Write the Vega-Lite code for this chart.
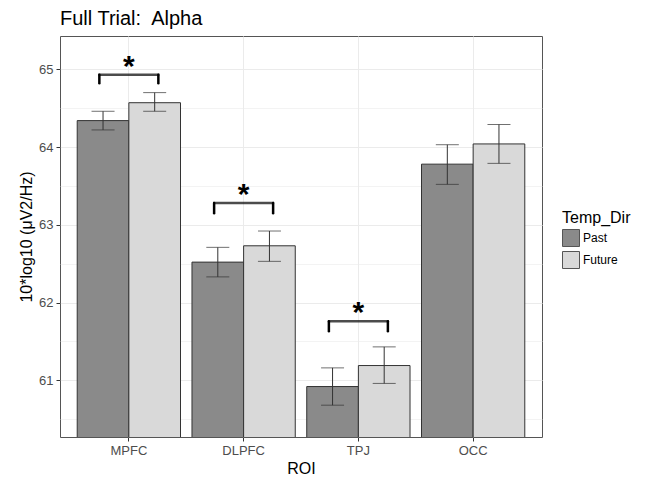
{
  "$schema": "https://vega.github.io/schema/vega-lite/v6.json",
  "width": 482,
  "height": 401,
  "autosize": "none",
  "padding": {"left": 60, "top": 36, "right": 107, "bottom": 44},
  "background": "white",
  "config": {
    "font": "Liberation Sans",
    "view": {"stroke": "#555555", "strokeWidth": 1},
    "axis": {"domain": false, "gridColor": "#EBEBEB", "tickColor": "#333333", "tickSize": 4, "labelColor": "#4D4D4D", "labelFont": "Liberation Sans", "titleFont": "Liberation Sans", "titleFontWeight": "normal", "titleColor": "#000000"}
  },
  "title": {"text": "Full Trial:\u00a0 Alpha", "anchor": "start", "frame": "group", "fontSize": 20, "fontWeight": "normal", "font": "Liberation Sans", "color": "#000000", "offset": 7},
  "datasets": {
    "bars": [
      {"ROI": "MPFC", "Temp_Dir": "Past", "mean": 64.34, "lo": 64.22, "hi": 64.46},
      {"ROI": "MPFC", "Temp_Dir": "Future", "mean": 64.57, "lo": 64.46, "hi": 64.70},
      {"ROI": "DLPFC", "Temp_Dir": "Past", "mean": 62.52, "lo": 62.33, "hi": 62.71},
      {"ROI": "DLPFC", "Temp_Dir": "Future", "mean": 62.73, "lo": 62.53, "hi": 62.92},
      {"ROI": "TPJ", "Temp_Dir": "Past", "mean": 60.92, "lo": 60.68, "hi": 61.16},
      {"ROI": "TPJ", "Temp_Dir": "Future", "mean": 61.19, "lo": 60.96, "hi": 61.43},
      {"ROI": "OCC", "Temp_Dir": "Past", "mean": 63.78, "lo": 63.52, "hi": 64.03},
      {"ROI": "OCC", "Temp_Dir": "Future", "mean": 64.04, "lo": 63.79, "hi": 64.29}
    ],
    "sig": [
      {"ROI": "MPFC", "top": 64.93, "low": 64.82, "label": "*"},
      {"ROI": "DLPFC", "top": 63.28, "low": 63.15, "label": "*"},
      {"ROI": "TPJ", "top": 61.76, "low": 61.63, "label": "*"}
    ]
  },
  "encoding": {
    "x": {
      "field": "ROI", "type": "nominal", "title": "ROI",
      "scale": {"domain": ["MPFC", "DLPFC", "TPJ", "OCC"], "paddingInner": 0.1, "paddingOuter": 0.15},
      "axis": {"labelAngle": 0, "labelFontSize": 13, "titleFontSize": 16, "labelPadding": 3, "titlePadding": 3, "grid": true, "bandPosition": 0.5}
    }
  },
  "layer": [
    {
      "data": {"name": "bars"},
      "mark": {"type": "bar", "stroke": "#333333", "strokeWidth": 1, "clip": true},
      "encoding": {
        "xOffset": {"field": "Temp_Dir", "type": "nominal", "scale": {"domain": ["Past", "Future"], "paddingInner": 0, "paddingOuter": 0}},
        "y": {
          "field": "mean", "type": "quantitative", "title": "10*log10 (μV2/Hz)",
          "scale": {"domain": [60.271, 65.428], "nice": false, "zero": false},
          "axis": {
            "values": [60.5, 61, 61.5, 62, 62.5, 63, 63.5, 64, 64.5, 65],
            "labelExpr": "datum.value % 1 === 0 ? format(datum.value, 'd') : ''",
            "tickOpacity": {"condition": {"test": "datum.value % 1 !== 0", "value": 0}, "value": 1},
            "gridWidth": {"condition": {"test": "datum.value % 1 !== 0", "value": 0.6}, "value": 1},
            "labelFontSize": 13, "titleFontSize": 16, "labelPadding": 3, "titlePadding": 4
          }
        },
        "fill": {
          "field": "Temp_Dir", "type": "nominal", "title": "Temp_Dir",
          "scale": {"domain": ["Past", "Future"], "range": ["#8A8A8A", "#D9D9D9"]},
          "legend": {"orient": "none", "legendX": 502, "legendY": 174, "titleFontSize": 16, "titleFontWeight": "normal", "titleColor": "#000000", "labelFontSize": 12, "labelColor": "#000000", "symbolType": "square", "symbolSize": 289, "symbolStrokeColor": "#555555", "symbolStrokeWidth": 1, "rowPadding": 0, "labelOffset": 3, "titlePadding": 3}
        }
      }
    },
    {
      "data": {"name": "bars"},
      "mark": {"type": "rule", "color": "#333333", "strokeWidth": 1},
      "encoding": {
        "xOffset": {"field": "Temp_Dir", "type": "nominal"},
        "y": {"field": "lo", "type": "quantitative"},
        "y2": {"field": "hi"}
      }
    },
    {
      "data": {"name": "bars"},
      "mark": {"type": "tick", "color": "#333333", "thickness": 1, "size": 23},
      "encoding": {
        "xOffset": {"field": "Temp_Dir", "type": "nominal"},
        "y": {"field": "lo", "type": "quantitative"}
      }
    },
    {
      "data": {"name": "bars"},
      "mark": {"type": "tick", "color": "#333333", "thickness": 1, "size": 23},
      "encoding": {
        "xOffset": {"field": "Temp_Dir", "type": "nominal"},
        "y": {"field": "hi", "type": "quantitative"}
      }
    },
    {
      "data": {"name": "sig"},
      "mark": {"type": "tick", "color": "#000000", "thickness": 2.5, "size": 61},
      "encoding": {
        "y": {"field": "top", "type": "quantitative"}
      }
    },
    {
      "data": {"name": "sig"},
      "mark": {"type": "rule", "color": "#000000", "strokeWidth": 2.5, "xOffset": -29.5, "strokeCap": "round"},
      "encoding": {
        "y": {"field": "top", "type": "quantitative"},
        "y2": {"field": "low"}
      }
    },
    {
      "data": {"name": "sig"},
      "mark": {"type": "rule", "color": "#000000", "strokeWidth": 2.5, "xOffset": 29.5, "strokeCap": "round"},
      "encoding": {
        "y": {"field": "top", "type": "quantitative"},
        "y2": {"field": "low"}
      }
    },
    {
      "data": {"name": "sig"},
      "mark": {"type": "text", "fontSize": 30, "fontWeight": "bold", "color": "#000000", "baseline": "alphabetic", "dy": 1},
      "encoding": {
        "y": {"field": "top", "type": "quantitative"},
        "text": {"field": "label"}
      }
    }
  ]
}
